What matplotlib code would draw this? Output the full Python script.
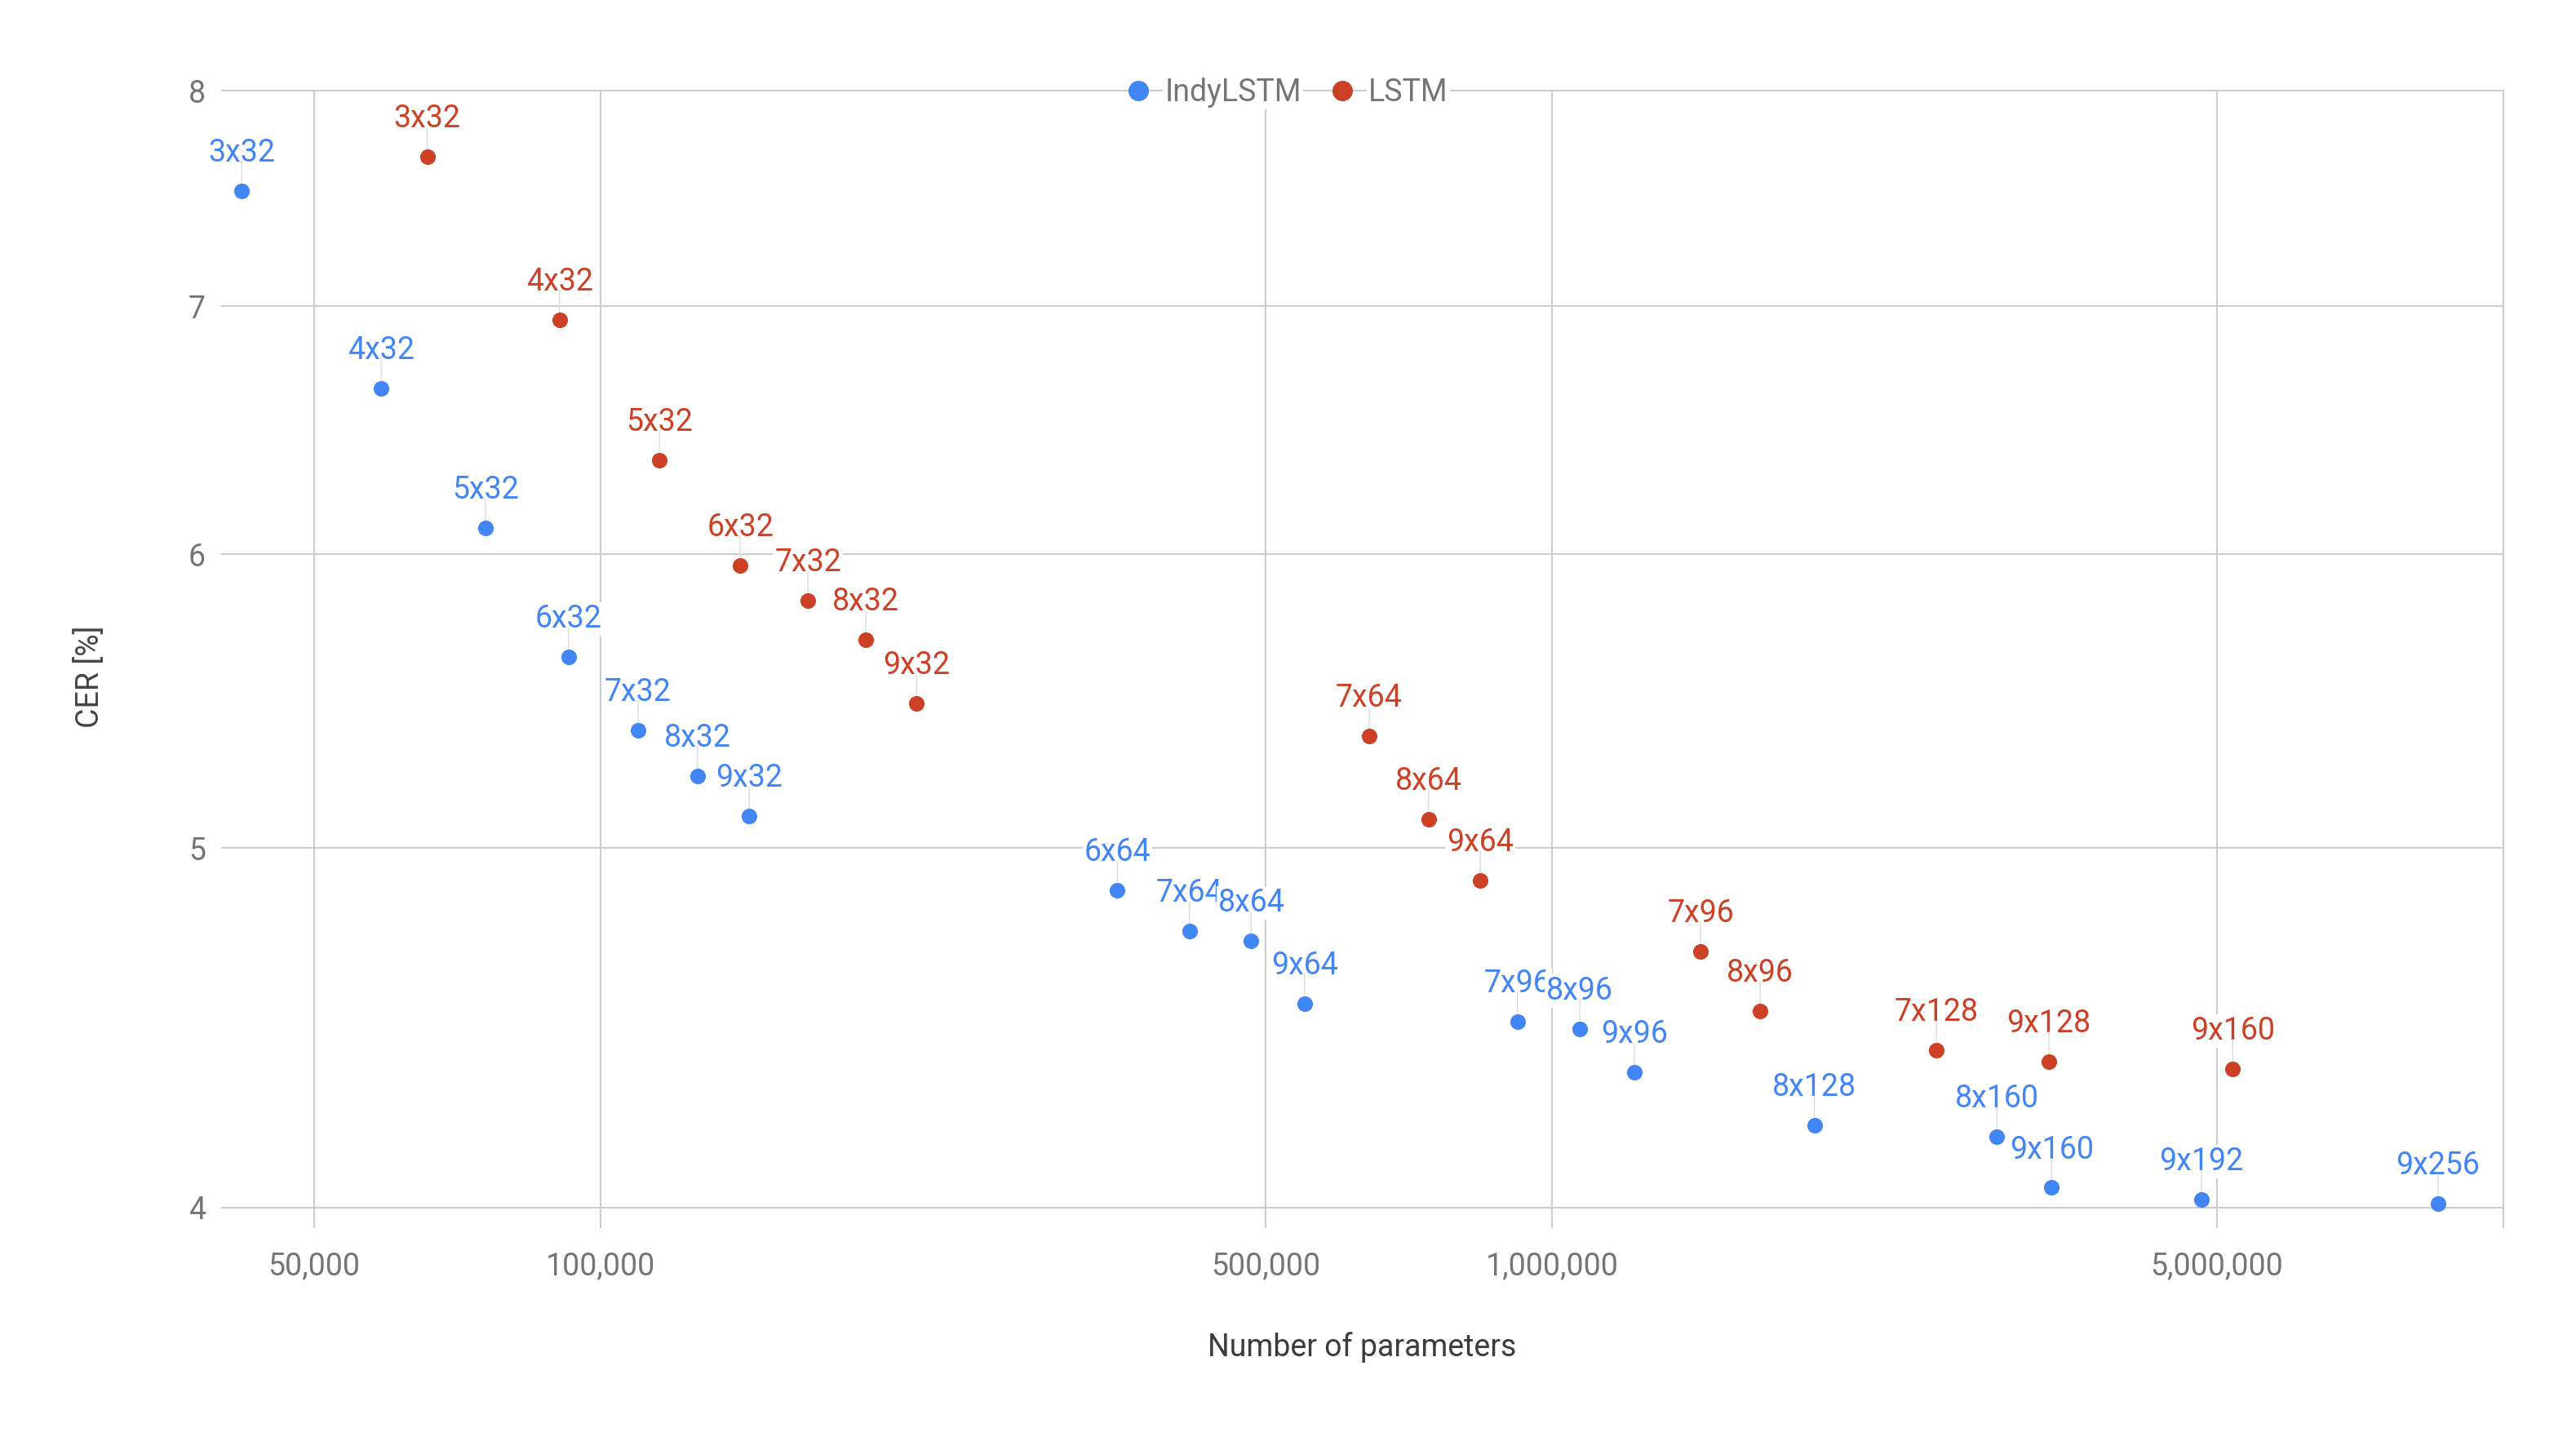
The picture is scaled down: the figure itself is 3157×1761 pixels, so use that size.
import matplotlib
matplotlib.use("Agg")
import matplotlib.pyplot as plt
from matplotlib.lines import Line2D
from matplotlib.ticker import NullLocator

plt.rcParams['font.family'] = ['Roboto', 'DejaVu Sans']

# ---- data ----
indy_labels = ['3x32', '4x32', '5x32', '6x32', '7x32', '8x32', '9x32', '6x64', '7x64',
               '8x64', '9x64', '7x96', '8x96', '9x96', '8x128', '8x160', '9x160',
               '9x192', '9x256']
indy_params = [41950, 58810, 75690, 92570, 109500, 126400, 143330, 349300, 415900,
               482900, 549500, 919900, 1069500, 1219800, 1887000, 2936000, 3351000,
               4815000, 8537000]
indy_cer = [7.52, 6.65, 6.10, 5.63, 5.38, 5.23, 5.10, 4.87, 4.75, 4.72, 4.54, 4.49,
            4.47, 4.35, 4.21, 4.18, 4.05, 4.02, 4.01]

lstm_labels = ['3x32', '4x32', '5x32', '6x32', '7x32', '8x32', '9x32', '7x64', '8x64',
               '9x64', '7x96', '8x96', '7x128', '9x128', '9x160']
lstm_params = [65740, 90540, 115320, 140200, 165200, 190000, 214800, 642400, 741600,
               840800, 1433000, 1655000, 2536000, 3330000, 5195000]
lstm_cer = [7.68, 6.94, 6.36, 5.96, 5.83, 5.69, 5.47, 5.36, 5.09, 4.90, 4.69, 4.52,
            4.41, 4.38, 4.36]

x_ticks = [50000, 100000, 500000, 1000000, 5000000, 10000000]
x_ticklabels = ['50,000', '100,000', '500,000', '1,000,000', '5,000,000', '']
y_ticks = [4, 5, 6, 7, 8]
y_ticklabels = ['4', '5', '6', '7', '8']

series_names = ['IndyLSTM', 'LSTM']
colors = ['#4285F4', '#CC4125']

# ---- figure ----
W, H = 3157, 1761
fig = plt.figure(figsize=(W / 100, H / 100), dpi=100)
left, right, top, bottom = 272, 3068, 111.5, 1480
ax = fig.add_axes([left / W, 1 - bottom / H, (right - left) / W, (bottom - top) / H])

ax.set_xscale('log')
ax.set_yscale('log')
ax.set_xlim(40000, 10000000)
ax.set_ylim(4, 8)

grid_color = '#cccccc'
ax.set_xticks(x_ticks)
ax.set_xticklabels(x_ticklabels)
ax.set_yticks(y_ticks)
ax.set_yticklabels(y_ticklabels)
ax.xaxis.set_minor_locator(NullLocator())
ax.yaxis.set_minor_locator(NullLocator())
ax.grid(True, color=grid_color, linewidth=1.5)
for gl in ax.get_xgridlines() + ax.get_ygridlines():
    gl.set_clip_on(False)
ax.set_axisbelow(True)
for s in ax.spines.values():
    s.set_visible(False)
ax.tick_params(axis='x', length=18, width=1.5, color=grid_color, pad=20,
               labelsize=27, labelcolor='#757575')
ax.tick_params(axis='y', length=0, pad=14.5, labelsize=27, labelcolor='#757575')

# points
for params, cer, c in [(indy_params, indy_cer, colors[0]), (lstm_params, lstm_cer, colors[1])]:
    ax.scatter(params, cer, s=190, color=c, linewidths=0, zorder=3, clip_on=False)

# labels with leader lines
for params, cer, labels, c in [(indy_params, indy_cer, indy_labels, colors[0]),
                               (lstm_params, lstm_cer, lstm_labels, colors[1])]:
    for x, y, lab in zip(params, cer, labels):
        ax.annotate(lab, xy=(x, y), xytext=(0, 25.9), textcoords='offset points',
                    ha='center', va='baseline', fontsize=27, color=c, zorder=4,
                    bbox=dict(boxstyle='square,pad=0.05', fc='white', ec='none'),
                    annotation_clip=False)
        ax.annotate('', xy=(x, y), xytext=(0, 25.8), textcoords='offset points',
                    arrowprops=dict(arrowstyle='-', color='#dcdcdc', lw=1.0,
                                    shrinkA=0, shrinkB=7),
                    zorder=5, annotation_clip=False)

# axis titles
fig.text(1669 / W, 1 - 1662 / H, 'Number of parameters', ha='center', va='baseline',
         fontsize=27, color='#3c3c3c')
fig.text(110.5 / W, 1 - 829 / H, 'CER [%]', ha='center', va='center', rotation=90,
         fontsize=27, color='#444444')

# legend
handles = [Line2D([], [], linestyle='none', marker='o', markersize=18, color=c,
                  markeredgewidth=0) for c in colors]
leg = fig.legend(handles, series_names, loc='center', bbox_to_anchor=(0.5, 1 - 114 / H),
                 ncol=2, frameon=False, fontsize=27, handlelength=0.7,
                 handletextpad=0.5, columnspacing=1.0, borderpad=0)
for t in leg.get_texts():
    t.set_color('#757575')
    t.set_bbox(dict(boxstyle='square,pad=0.05', fc='white', ec='none'))

fig.savefig('out.png', dpi=100, facecolor='white')
